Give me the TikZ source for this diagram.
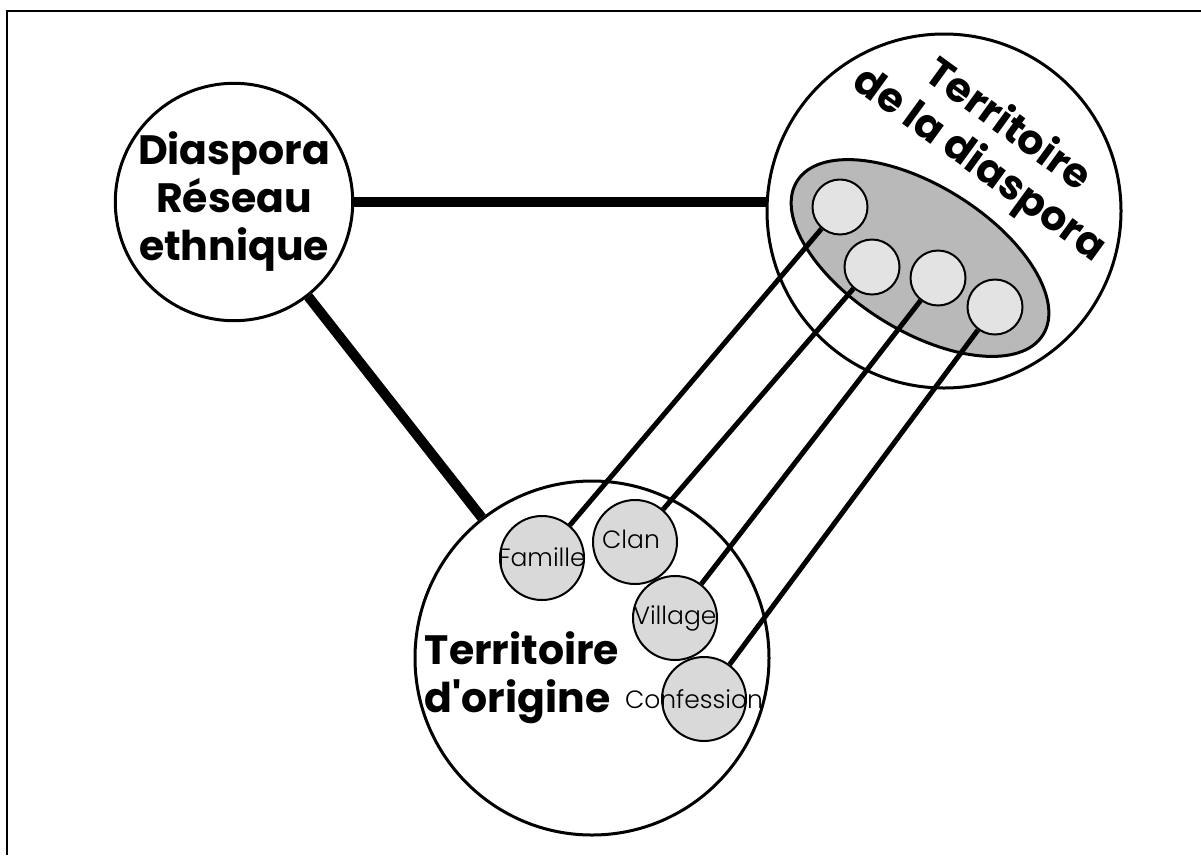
\documentclass[tikz,border=0pt]{standalone}
\usepackage{fontspec}
\setmainfont{Poppins}[Ligatures=TeXOff]
\newfontfamily\thinlab{Poppins Light}
\usepackage{xcolor}
\usepackage{tikz}
\usetikzlibrary{shapes,positioning}

\begin{document}
\begin{tikzpicture}[x=1pt,y=-1pt,
		zone/.style={circle, draw, line width=3pt, inner sep=0pt},
		dot/.style={circle, draw, line width=2pt, fill=gray!22, minimum size=55pt, inner sep=0pt},
		kin/.style={circle, draw, line width=2pt, fill=gray!30, minimum size=84pt, inner sep=0pt, font=\thinlab\fontsize{25}{30}\selectfont},
		heavy/.style={line width=10pt},
		tie/.style={line width=5pt},
		title/.style={font=\bfseries\fontsize{41}{48}\selectfont}]
				\useasboundingbox (0,0) rectangle (1201,855);
				\draw[line width=2.5pt] (7,855) -- (7,11) -- (1201,11);
				
				\node[zone, minimum size=232pt, title, align=center] (diaspora) at (234,202) {Diaspora\\Réseau\\ethnique};
				\node[zone, minimum size=354pt] (terrdiasp) at (944,211) {};
				\node[zone, minimum size=354pt] (origine) at (592,658) {};
				
				\node[title, align=center, rotate=-36] (terrdiasplab) at (993,146) {Territoire\\de la diaspora};
				\node[title, align=left] (originelab) at (522,678) {Territoire\\d'origine};
				
				\node[ellipse, draw, line width=3pt, fill=gray!55, minimum width=290pt, minimum height=145pt, rotate=-32] (groupe) at (920,258) {};
				\node[dot] (d1) at (840,207) {};
				\node[dot] (d2) at (872,267) {};
				\node[dot] (d3) at (938,278) {};
				\node[dot] (d4) at (995,307) {};
				
				\node[kin] (famille) at (542,558) {\makebox[0pt]{\raisebox{2pt}{Famille}}};
				\node[kin] (clan) at (635,542) {\makebox[0pt]{\hspace*{-8pt}\raisebox{5pt}{Clan}}};
				\node[kin] (village) at (675,618) {\makebox[0pt]{Village}};
				\node[kin] (confession) at (704,699) {\makebox[0pt]{\hspace*{-20pt}Confession}};
				
				\draw[heavy] (diaspora.east) -- (diaspora.east -| terrdiasp.west);
				\draw[heavy] (diaspora) -- (origine);
				
				\draw[tie] (d1) -- (famille);
				\draw[tie] (d2) -- (clan);
				\draw[tie] (d3) -- (village);
				\draw[tie] (d4) -- (confession);
			\end{tikzpicture}
\end{document}
